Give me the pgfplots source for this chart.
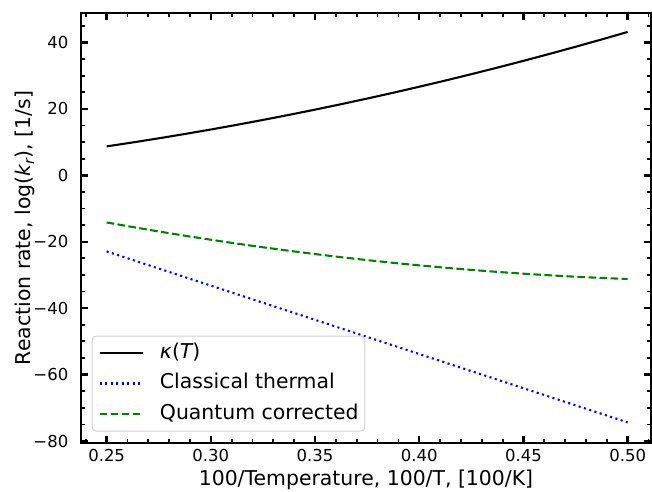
\documentclass[border=0pt]{standalone}
\usepackage{fontspec}
\setmainfont{DejaVu Sans}
\usepackage{pgfplots}
\pgfplotsset{compat=1.18}
\pgfplotstableread{
x kappa classical quantum
0.2500 8.730 -22.900 -14.170
0.2625 9.916 -25.475 -15.559
0.2750 11.158 -28.050 -16.892
0.2875 12.457 -30.625 -18.168
0.3000 13.813 -33.200 -19.387
0.3125 15.225 -35.775 -20.550
0.3250 16.693 -38.350 -21.657
0.3375 18.218 -40.925 -22.707
0.3500 19.800 -43.500 -23.700
0.3625 21.438 -46.075 -24.637
0.3750 23.133 -48.650 -25.517
0.3875 24.885 -51.225 -26.340
0.4000 26.693 -53.800 -27.107
0.4125 28.557 -56.375 -27.818
0.4250 30.478 -58.950 -28.472
0.4375 32.456 -61.525 -29.069
0.4500 34.490 -64.100 -29.610
0.4625 36.581 -66.675 -30.094
0.4750 38.728 -69.250 -30.522
0.4875 40.932 -71.825 -30.893
0.5000 43.193 -74.400 -31.207
}\rates
\definecolor{mplgreen}{RGB}{0,128,0}
\definecolor{mplblue}{RGB}{0,0,255}
\begin{document}
\begin{tikzpicture}
\begin{axis}[
  scale only axis, width=570pt, height=430pt,
  xmin=0.2377, xmax=0.5112, ymin=-80.6, ymax=48.9,
  axis line style={line width=2pt},
  tick align=inside, xtick pos=both, ytick pos=both, ticklabel pos=left,
  xtick={0.25,0.3,0.35,0.4,0.45,0.5},
  xticklabels={0.25,0.30,0.35,0.40,0.45,0.50},
  minor xtick={0.24,0.25,...,0.515},
  ytick={-80,-60,-40,-20,0,20,40},
  yticklabels={−80,−60,−40,−20,0,20,40},
  minor ytick={-80,-75,...,45},
  major tick length=7pt, minor tick length=4pt,
  every major tick/.append style={line width=2.4pt, black},
  every minor tick/.append style={line width=1.8pt, black},
  tick label style={font=\fontsize{16.5}{19}\selectfont, inner sep=0pt},
  yticklabel style={anchor=east, xshift=-12.5pt},
  xticklabel style={anchor=north, yshift=-5.7pt},
  label style={font=\fontsize{20.4}{24}\selectfont},
  xlabel={100/Temperature, 100/T, [100/K]},
  ylabel={Reaction rate, log({\itshape k}\textsubscript{\itshape r}), [1/s]},
  xlabel style={at={(axis description cs:0.5,0)}, anchor=base, yshift=-42pt},
  ylabel style={at={([xshift=-50pt]axis description cs:0,0.5)}, anchor=base},
  legend cell align=left,
  legend image code/.code={\draw[#1] (0pt,0pt) -- (43.4pt,0pt);},
  legend style={at={(axis description cs:0,0)}, anchor=south west,
    xshift=10.7pt, yshift=11.5pt, draw=black!18, line width=1pt,
    rounded corners=4pt, fill=white,
    font=\fontsize{20.4}{24}\selectfont,
    inner xsep=6.3pt, inner ysep=7pt, row sep=10.5pt, column sep=16pt,
    nodes={inner sep=0pt, text height=15pt, text depth=5pt}},
]
\addplot[black, line width=2.08pt] table[x=x, y=kappa] {\rates};
\addlegendentry{{\itshape κ}({\itshape T})}
\addplot[mplblue, line width=2.08pt, dash pattern=on 2.08pt off 3.44pt] table[x=x, y=classical] {\rates};
\addlegendentry{Classical thermal}
\addplot[mplgreen, line width=2.08pt, dash pattern=on 7.7pt off 3.33pt] table[x=x, y=quantum] {\rates};
\addlegendentry{Quantum corrected}
\end{axis}
\pgfresetboundingbox
\path[use as bounding box] (-81pt,-48pt) rectangle (571pt,443pt);
\end{tikzpicture}
\end{document}
